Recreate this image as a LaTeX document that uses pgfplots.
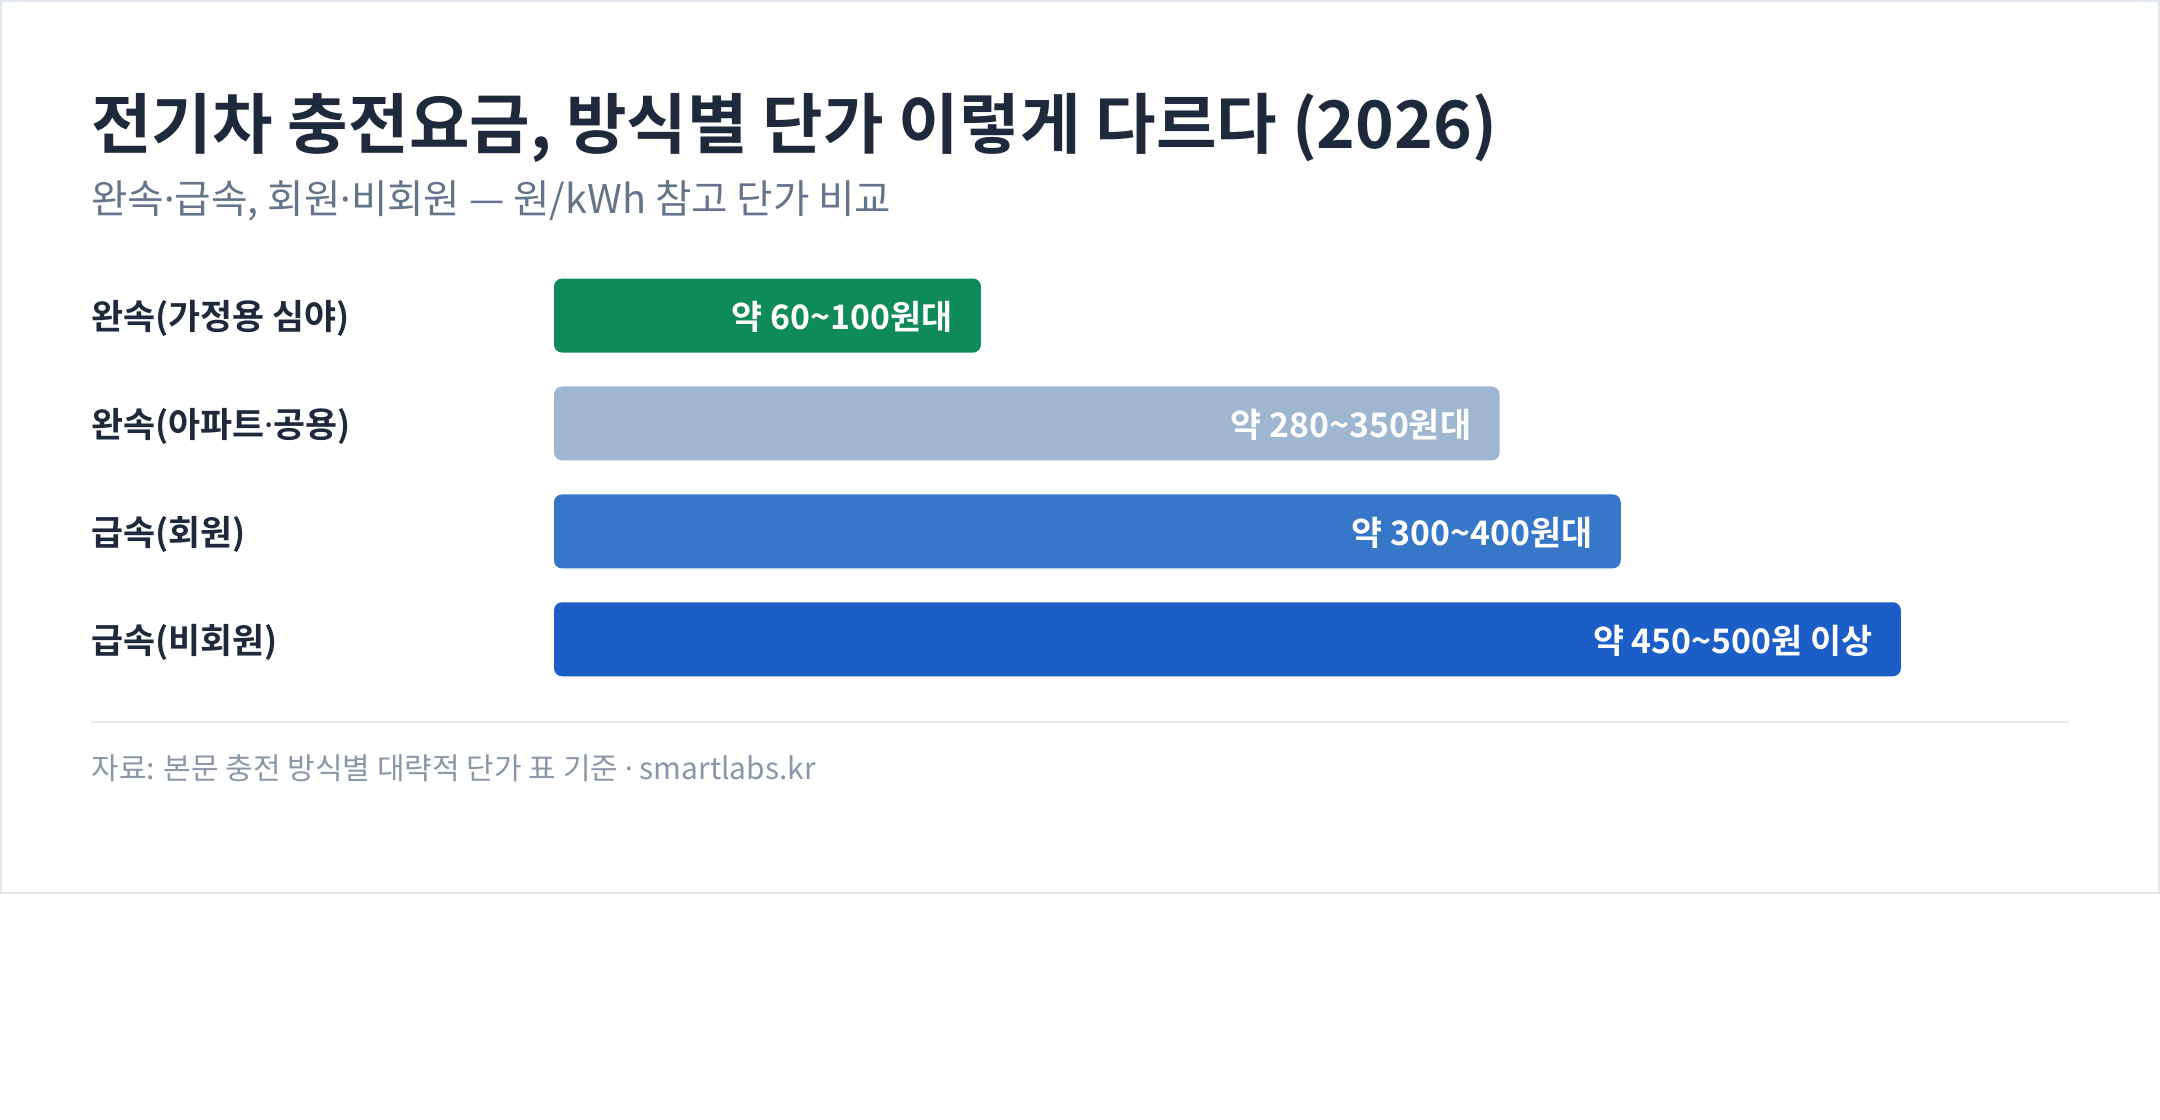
\documentclass[border=0pt]{standalone}
\usepackage{fontspec}
\setmainfont{Noto Sans CJK KR}[BoldFont={Noto Sans CJK KR Bold}]
\newfontfamily\latin{Noto Sans}
\newcommand{\md}{{\latin ·}}
\usepackage{pgfplots}
\pgfplotsset{compat=1.18}
\definecolor{cardborder}{HTML}{E2E8F0}
\definecolor{sepc}{HTML}{E8ECF1}
\definecolor{titlec}{HTML}{1E293B}
\definecolor{subc}{HTML}{64748B}
\definecolor{footc}{HTML}{8B97A8}
\definecolor{labc}{HTML}{1E293B}
\definecolor{cA}{HTML}{0E8A5B}
\definecolor{cB}{HTML}{9EB6D0}
\definecolor{cC}{HTML}{3777C9}
\definecolor{cD}{HTML}{1B5EC8}
\begin{document}
\begin{tikzpicture}
\path[fill=white] (0,0) rectangle (1080pt,-560pt);
\draw[cardborder, line width=1pt] (0.5pt,-0.5pt) rectangle (1079.5pt,-446.5pt);
\node[anchor=base west, inner sep=0pt, text=titlec, font=\fontsize{32.9}{38}\selectfont\bfseries] at (45.5pt,-74pt) {전기차 충전요금, 방식별 단가 이렇게 다르다 (2026)};
\node[anchor=base west, inner sep=0pt, text=subc, font=\fontsize{19.8}{23}\selectfont] at (45.5pt,-106.8pt) {완속\md 급속, 회원\md 비회원 — 원/kWh 참고 단가 비교};
\node[anchor=west, inner sep=0pt, text=labc, font=\fontsize{17.4}{21}\selectfont\bfseries] at (45.5pt,-159pt) {완속(가정용 심야)};
\node[anchor=west, inner sep=0pt, text=labc, font=\fontsize{17.4}{21}\selectfont\bfseries] at (45.5pt,-213pt) {완속(아파트\md 공용)};
\node[anchor=west, inner sep=0pt, text=labc, font=\fontsize{17.4}{21}\selectfont\bfseries] at (45.5pt,-267pt) {급속(회원)};
\node[anchor=west, inner sep=0pt, text=labc, font=\fontsize{17.4}{21}\selectfont\bfseries] at (45.5pt,-321pt) {급속(비회원)};
\draw[sepc, line width=1pt] (45.5pt,-361pt) -- (1034.5pt,-361pt);
\node[anchor=west, inner sep=0pt, text=footc, font=\fontsize{15}{18}\selectfont] at (45.5pt,-384pt) {자료: 본문 충전 방식별 대략적 단가 표 기준 \md{} smartlabs.kr};
\begin{axis}[
  at={(277pt,-346.6pt)}, anchor=south west,
  width=757.5pt, height=215.8pt, scale only axis,
  xmin=0, xmax=562.4, ymin=-0.5, ymax=3.5, y dir=reverse,
  hide axis, xbar, bar width=37pt, bar shift=0pt, clip=false]
\addplot[fill=cA, draw=none, rounded corners=4pt] coordinates {(158.5,0)};
\addplot[fill=cB, draw=none, rounded corners=4pt] coordinates {(351,1)};
\addplot[fill=cC, draw=none, rounded corners=4pt] coordinates {(396,2)};
\addplot[fill=cD, draw=none, rounded corners=4pt] coordinates {(500,3)};
\node[anchor=east, xshift=-14pt, yshift=-0.6pt, inner sep=0pt, text=white, font=\fontsize{16.9}{20}\selectfont\bfseries] at (axis cs:158.5,0) {약 60\textasciitilde100원대};
\node[anchor=east, xshift=-14pt, yshift=-0.6pt, inner sep=0pt, text=white, font=\fontsize{16.9}{20}\selectfont\bfseries] at (axis cs:351,1) {약 280\textasciitilde350원대};
\node[anchor=east, xshift=-14pt, yshift=-0.6pt, inner sep=0pt, text=white, font=\fontsize{16.9}{20}\selectfont\bfseries] at (axis cs:396,2) {약 300\textasciitilde400원대};
\node[anchor=east, xshift=-14pt, yshift=-0.6pt, inner sep=0pt, text=white, font=\fontsize{16.9}{20}\selectfont\bfseries] at (axis cs:500,3) {약 450\textasciitilde500원 이상};
\end{axis}
\end{tikzpicture}
\end{document}
